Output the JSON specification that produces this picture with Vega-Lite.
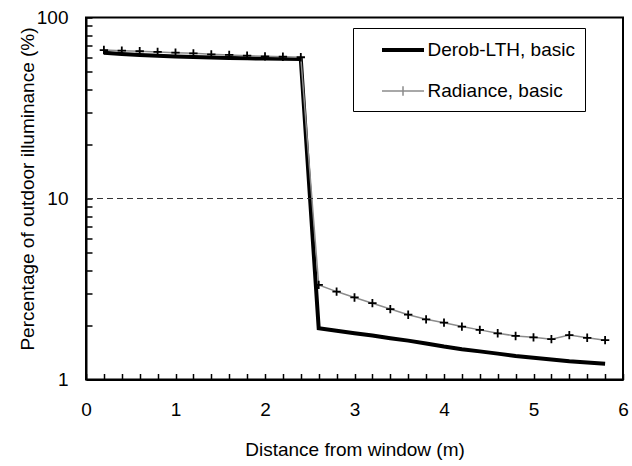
{
  "$schema": "https://vega.github.io/schema/vega-lite/v6.json",
  "width": 537,
  "height": 362,
  "autosize": {"type": "none"},
  "padding": {"left": 86, "top": 17.5, "right": 9, "bottom": 86.5},
  "background": "white",
  "config": {
    "view": {"stroke": "black", "strokeWidth": 2},
    "font": "Liberation Sans",
    "axis": {
      "labelFont": "Liberation Sans",
      "titleFont": "Liberation Sans",
      "labelFontSize": 19,
      "titleFontSize": 19,
      "titleFontWeight": "normal",
      "labelColor": "black",
      "titleColor": "black",
      "domainColor": "black",
      "domainWidth": 2,
      "tickColor": "black",
      "tickWidth": 1.5,
      "tickCount": 100,
      "grid": false,
      "labelOverlap": false,
      "labelFlush": false,
      "labelBound": false
    },
    "legend": {
      "labelFont": "Liberation Sans"
    }
  },
  "data": {
    "values": [
      {"series": "Derob-LTH, basic", "x": 0.2, "y": 63.8},
      {"series": "Derob-LTH, basic", "x": 0.4, "y": 62.9},
      {"series": "Derob-LTH, basic", "x": 0.6, "y": 62.0},
      {"series": "Derob-LTH, basic", "x": 0.8, "y": 61.4},
      {"series": "Derob-LTH, basic", "x": 1.0, "y": 60.9},
      {"series": "Derob-LTH, basic", "x": 1.2, "y": 60.5},
      {"series": "Derob-LTH, basic", "x": 1.4, "y": 60.1},
      {"series": "Derob-LTH, basic", "x": 1.6, "y": 59.8},
      {"series": "Derob-LTH, basic", "x": 1.8, "y": 59.5},
      {"series": "Derob-LTH, basic", "x": 2.0, "y": 59.3},
      {"series": "Derob-LTH, basic", "x": 2.2, "y": 59.1},
      {"series": "Derob-LTH, basic", "x": 2.4, "y": 58.9},
      {"series": "Derob-LTH, basic", "x": 2.6, "y": 1.92},
      {"series": "Derob-LTH, basic", "x": 2.8, "y": 1.86},
      {"series": "Derob-LTH, basic", "x": 3.0, "y": 1.80},
      {"series": "Derob-LTH, basic", "x": 3.2, "y": 1.75},
      {"series": "Derob-LTH, basic", "x": 3.4, "y": 1.69},
      {"series": "Derob-LTH, basic", "x": 3.6, "y": 1.64},
      {"series": "Derob-LTH, basic", "x": 3.8, "y": 1.58},
      {"series": "Derob-LTH, basic", "x": 4.0, "y": 1.52},
      {"series": "Derob-LTH, basic", "x": 4.2, "y": 1.47},
      {"series": "Derob-LTH, basic", "x": 4.4, "y": 1.43},
      {"series": "Derob-LTH, basic", "x": 4.6, "y": 1.39},
      {"series": "Derob-LTH, basic", "x": 4.8, "y": 1.35},
      {"series": "Derob-LTH, basic", "x": 5.0, "y": 1.32},
      {"series": "Derob-LTH, basic", "x": 5.2, "y": 1.29},
      {"series": "Derob-LTH, basic", "x": 5.4, "y": 1.26},
      {"series": "Derob-LTH, basic", "x": 5.6, "y": 1.24},
      {"series": "Derob-LTH, basic", "x": 5.8, "y": 1.22},
      {"series": "Radiance, basic", "x": 0.2, "y": 66.1},
      {"series": "Radiance, basic", "x": 0.4, "y": 65.6},
      {"series": "Radiance, basic", "x": 0.6, "y": 65.1},
      {"series": "Radiance, basic", "x": 0.8, "y": 64.5},
      {"series": "Radiance, basic", "x": 1.0, "y": 63.9},
      {"series": "Radiance, basic", "x": 1.2, "y": 63.4},
      {"series": "Radiance, basic", "x": 1.4, "y": 62.6},
      {"series": "Radiance, basic", "x": 1.6, "y": 62.1},
      {"series": "Radiance, basic", "x": 1.8, "y": 61.5},
      {"series": "Radiance, basic", "x": 2.0, "y": 61.0},
      {"series": "Radiance, basic", "x": 2.2, "y": 60.7},
      {"series": "Radiance, basic", "x": 2.4, "y": 60.3},
      {"series": "Radiance, basic", "x": 2.6, "y": 3.33},
      {"series": "Radiance, basic", "x": 2.8, "y": 3.06},
      {"series": "Radiance, basic", "x": 3.0, "y": 2.84},
      {"series": "Radiance, basic", "x": 3.2, "y": 2.64},
      {"series": "Radiance, basic", "x": 3.4, "y": 2.45},
      {"series": "Radiance, basic", "x": 3.6, "y": 2.28},
      {"series": "Radiance, basic", "x": 3.8, "y": 2.15},
      {"series": "Radiance, basic", "x": 4.0, "y": 2.06},
      {"series": "Radiance, basic", "x": 4.2, "y": 1.96},
      {"series": "Radiance, basic", "x": 4.4, "y": 1.88},
      {"series": "Radiance, basic", "x": 4.6, "y": 1.80},
      {"series": "Radiance, basic", "x": 4.8, "y": 1.74},
      {"series": "Radiance, basic", "x": 5.0, "y": 1.71},
      {"series": "Radiance, basic", "x": 5.2, "y": 1.67},
      {"series": "Radiance, basic", "x": 5.4, "y": 1.76},
      {"series": "Radiance, basic", "x": 5.6, "y": 1.70},
      {"series": "Radiance, basic", "x": 5.8, "y": 1.65}
    ]
  },
  "layer": [
    {
      "mark": {"type": "line", "interpolate": "linear"},
      "encoding": {
        "x": {
          "field": "x",
          "type": "quantitative",
          "scale": {"domain": [0, 6], "nice": false, "zero": false},
          "axis": {
            "title": "Distance from window (m)",
            "values": [0, 0.2, 0.4, 0.6, 0.8, 1, 1.2, 1.4, 1.6, 1.8, 2, 2.2, 2.4, 2.6, 2.8, 3, 3.2, 3.4, 3.6, 3.8, 4, 4.2, 4.4, 4.6, 4.8, 5, 5.2, 5.4, 5.6, 5.8, 6],
            "labelExpr": "datum.value % 1 == 0 ? format(datum.value, 'd') : ''",
            "tickCount": 100,
            "tickSize": -6,
            "labelPadding": 27,
            "titlePadding": 21
          }
        },
        "y": {
          "field": "y",
          "type": "quantitative",
          "scale": {"type": "log", "domain": [1, 100], "nice": false},
          "axis": {
            "title": "Percentage of outdoor illuminance (%)",
            "values": [1, 2, 3, 4, 5, 6, 7, 8, 9, 10, 20, 30, 40, 50, 60, 70, 80, 90, 100],
            "labelExpr": "datum.value == 1 || datum.value == 10 || datum.value == 100 ? format(datum.value, 'd') : ''",
            "tickCount": 100,
            "tickSize": -6,
            "labelPadding": 24,
            "titlePadding": -1,
            "titleY": 171
          }
        },
        "color": {
          "field": "series",
          "type": "nominal",
          "scale": {"domain": ["Derob-LTH, basic", "Radiance, basic"], "range": ["#000000", "#8c8c8c"]},
          "legend": {
            "title": null,
            "orient": "none",
            "legendX": 267,
            "legendY": 10.5,
            "strokeColor": "black",
            "fillColor": "white",
            "padding": 9.5,
            "labelFontSize": 19,
            "labelColor": "black",
            "symbolType": "M-2,0H2",
            "symbolSize": 441,
            "symbolOffset": 28,
            "labelOffset": 12,
            "rowPadding": 19,
            "labelExpr": "datum.label + '\u2003 '",
            "encode": {
              "symbols": {
                "update": {
                  "strokeWidth": {"signal": "datum.value === 'Derob-LTH, basic' ? 4 : 1.5"},
                  "shape": {"signal": "datum.value === 'Derob-LTH, basic' ? 'M-2,0H2' : 'M-2,0H2M0,-0.45V0.45'"},
                  "fill": {"value": "transparent"}
                }
              }
            }
          }
        },
        "strokeWidth": {
          "field": "series",
          "type": "nominal",
          "scale": {"domain": ["Derob-LTH, basic", "Radiance, basic"], "range": [4, 1.5]},
          "legend": null
        }
      }
    },
    {
      "transform": [{"filter": "datum.series === 'Radiance, basic'"}],
      "mark": {"type": "point", "shape": "M-1,0H1M0,-1V1", "filled": false, "stroke": "black", "strokeWidth": 1.8, "size": 70, "opacity": 1},
      "encoding": {
        "x": {"field": "x", "type": "quantitative"},
        "y": {"field": "y", "type": "quantitative"}
      }
    },
    {
      "mark": {"type": "rule", "strokeDash": [6, 4], "color": "#333333", "strokeWidth": 1},
      "encoding": {"y": {"datum": 10, "type": "quantitative"}}
    }
  ]
}
